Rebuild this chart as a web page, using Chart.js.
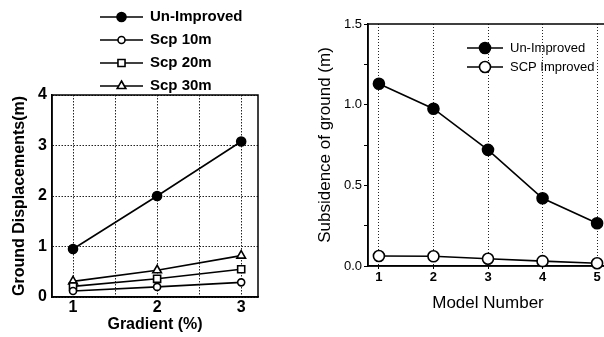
<!DOCTYPE html>
<html><head><meta charset="utf-8">
<script src="https://cdn.jsdelivr.net/npm/chart.js@4"></script>
<style>
html,body{margin:0;padding:0;background:#fff;overflow:hidden;width:604px;height:337px;position:relative}
#c1{position:absolute;left:0;top:0}
#c2{position:absolute;left:290px;top:0}
</style></head><body>
<canvas id="c1" width="285" height="337"></canvas>
<canvas id="c2" width="330" height="337"></canvas>
<script>
// ---- Left chart data ----
const gradient = [1, 2, 3];
const unImprovedGrad = [0.95, 2.0, 3.08];
const scp10 = [0.12, 0.2, 0.29];
const scp20 = [0.21, 0.36, 0.55];
const scp30 = [0.31, 0.53, 0.82];
const leftXGrid = [1, 1.5, 2, 2.5, 3];
const leftXLabels = [1, 2, 3];
const leftYTicks = [0, 1, 2, 3, 4];

// ---- Right chart data ----
const modelNumber = [1, 2, 3, 4, 5];
const unImprovedModel = [1.13, 0.975, 0.72, 0.42, 0.265];
const scpImproved = [0.062, 0.06, 0.045, 0.03, 0.017];
const rightYTicks = [0, 0.25, 0.5, 0.75, 1.0, 1.25, 1.5];
const rightYLabels = [0, 0.5, 1.0, 1.5];

const FONT = "'Liberation Sans', Arial, sans-serif";

const pts = (xs, ys) => xs.map((x, i) => ({x: x, y: ys[i]}));

const frame = {
  id: 'frame',
  beforeDatasetsDraw(chart) {
    const a = chart.chartArea, ctx = chart.ctx;
    ctx.save();
    ctx.strokeStyle = '#000';
    ctx.lineWidth = 1.5;
    ctx.setLineDash([]);
    ctx.strokeRect(a.left, a.top, a.right - a.left, a.bottom - a.top);
    ctx.restore();
  }
};

const lineLegend = {
  id: 'lineLegend',
  afterDraw(chart, args, o) {
    const ctx = chart.ctx;
    ctx.save();
    chart.data.datasets.forEach((ds, i) => {
      const y = o.y + i * o.dy;
      ctx.strokeStyle = '#000';
      ctx.lineWidth = o.lineWidth;
      ctx.beginPath();
      ctx.moveTo(o.x, y);
      ctx.lineTo(o.x + o.lineLen, y);
      ctx.stroke();
      ctx.fillStyle = ds.pointBackgroundColor;
      ctx.strokeStyle = '#000';
      ctx.lineWidth = ds.pointBorderWidth;
      Chart.helpers.drawPoint(ctx, {
        pointStyle: ds.pointStyle, rotation: 0,
        radius: ds.pointRadius * o.scale, borderWidth: ds.pointBorderWidth
      }, o.x + o.lineLen / 2, y);
      ctx.fillStyle = '#000';
      ctx.font = o.font;
      ctx.textAlign = 'left';
      ctx.textBaseline = 'middle';
      ctx.fillText(ds.label, o.x + o.lineLen + o.gap, y);
    });
    ctx.restore();
  }
};

function series(label, data, style, filled, r) {
  return {
    label: label, data: data,
    borderColor: '#000', borderWidth: 1.6, tension: 0,
    pointStyle: style, pointRadius: r,
    pointBackgroundColor: filled ? '#000' : '#fff',
    pointBorderColor: '#000', pointBorderWidth: 1.6,
    clip: false
  };
}

new Chart(document.getElementById('c1'), {
  type: 'line',
  data: {
    datasets: [
      series('Un-Improved', pts(gradient, unImprovedGrad), 'circle', true, 4.5),
      series('Scp 10m', pts(gradient, scp10), 'circle', false, 3.5),
      series('Scp 20m', pts(gradient, scp20), 'rect', false, 5),
      series('Scp 30m', pts(gradient, scp30), 'triangle', false, 5)
    ]
  },
  options: {
    responsive: false, animation: false,
    layout: {padding: {left: 0, top: 95, right: 27, bottom: 0}},
    plugins: {
      legend: {display: false}, tooltip: {enabled: false},
      lineLegend: {x: 100, y: 17, dy: 23, lineLen: 43, gap: 7, lineWidth: 1.6, scale: 1,
        font: "bold 15px " + FONT}
    },
    scales: {
      x: {
        type: 'linear', min: 0.75, max: 3.2,
        afterBuildTicks: s => { s.ticks = leftXGrid.map(v => ({value: v})); },
        afterFit: s => { s.height = 40; },
        grid: {color: '#222', lineWidth: 1, drawTicks: false},
        border: {display: true, color: '#000', width: 1.5, dash: [1.5, 1.5]},
        ticks: {
          color: '#000', padding: 1, font: {family: FONT, size: 16, weight: 'bold'},
          callback: v => leftXLabels.includes(v) ? String(v) : ''
        },
        title: {display: true, text: 'Gradient (%)', color: '#000',
          font: {family: FONT, size: 16, weight: 'bold'}, padding: {top: 0, bottom: 2.4}}
      },
      y: {
        min: 0, max: 4,
        afterBuildTicks: s => { s.ticks = leftYTicks.map(v => ({value: v})); },
        afterFit: s => { s.width = 52; },
        grid: {color: '#222', lineWidth: 1, drawTicks: false},
        border: {display: true, color: '#000', width: 1.5, dash: [1.5, 1.5]},
        ticks: {color: '#000', padding: 5, font: {family: FONT, size: 16, weight: 'bold'}},
        title: {display: true, text: 'Ground Displacements(m)', color: '#000',
          font: {family: FONT, size: 16, weight: 'bold'}, padding: {top: 10.4, bottom: 0}}
      }
    }
  },
  plugins: [frame, lineLegend]
});

new Chart(document.getElementById('c2'), {
  type: 'line',
  data: {
    datasets: [
      series('Un-Improved', pts(modelNumber, unImprovedModel), 'circle', true, 5.5),
      series('SCP Improved', pts(modelNumber, scpImproved), 'circle', false, 5.5)
    ]
  },
  options: {
    responsive: false, animation: false,
    layout: {padding: {left: 0, top: 24, right: 12, bottom: 0}},
    plugins: {
      legend: {display: false}, tooltip: {enabled: false},
      lineLegend: {x: 177, y: 48, dy: 19, lineLen: 36, gap: 7, lineWidth: 1.4, scale: 1,
        font: "13px " + FONT}
    },
    scales: {
      x: {
        type: 'linear', min: 0.8, max: 5.2,
        afterBuildTicks: s => { s.ticks = modelNumber.map(v => ({value: v})); },
        afterFit: s => { s.height = 71; },
        grid: {color: '#222', lineWidth: 1, drawTicks: true, tickLength: 3,
          tickBorderDash: [], tickColor: '#000'},
        border: {display: true, color: '#000', width: 1.5, dash: [1, 2]},
        ticks: {color: '#000', padding: 1, font: {family: FONT, size: 13, weight: 'bold'}},
        title: {display: true, text: 'Model Number', color: '#000',
          font: {family: FONT, size: 17}, padding: {top: 0, bottom: 23.8}}
      },
      y: {
        min: 0, max: 1.5,
        afterBuildTicks: s => { s.ticks = rightYTicks.map(v => ({value: v})); },
        afterFit: s => { s.width = 78; },
        grid: {drawOnChartArea: false, drawTicks: true, tickLength: 4, color: '#000'},
        border: {display: true, color: '#000', width: 1.5},
        ticks: {color: '#000', padding: 2, font: {family: FONT, size: 13},
          callback: v => rightYLabels.includes(v) ? v.toFixed(1) : ''},
        title: {display: true, text: 'Subsidence of ground (m)', color: '#000',
          font: {family: FONT, size: 17}, padding: {top: 24.8, bottom: 0}}
      }
    }
  },
  plugins: [frame, lineLegend]
});
</script>
</body></html>
